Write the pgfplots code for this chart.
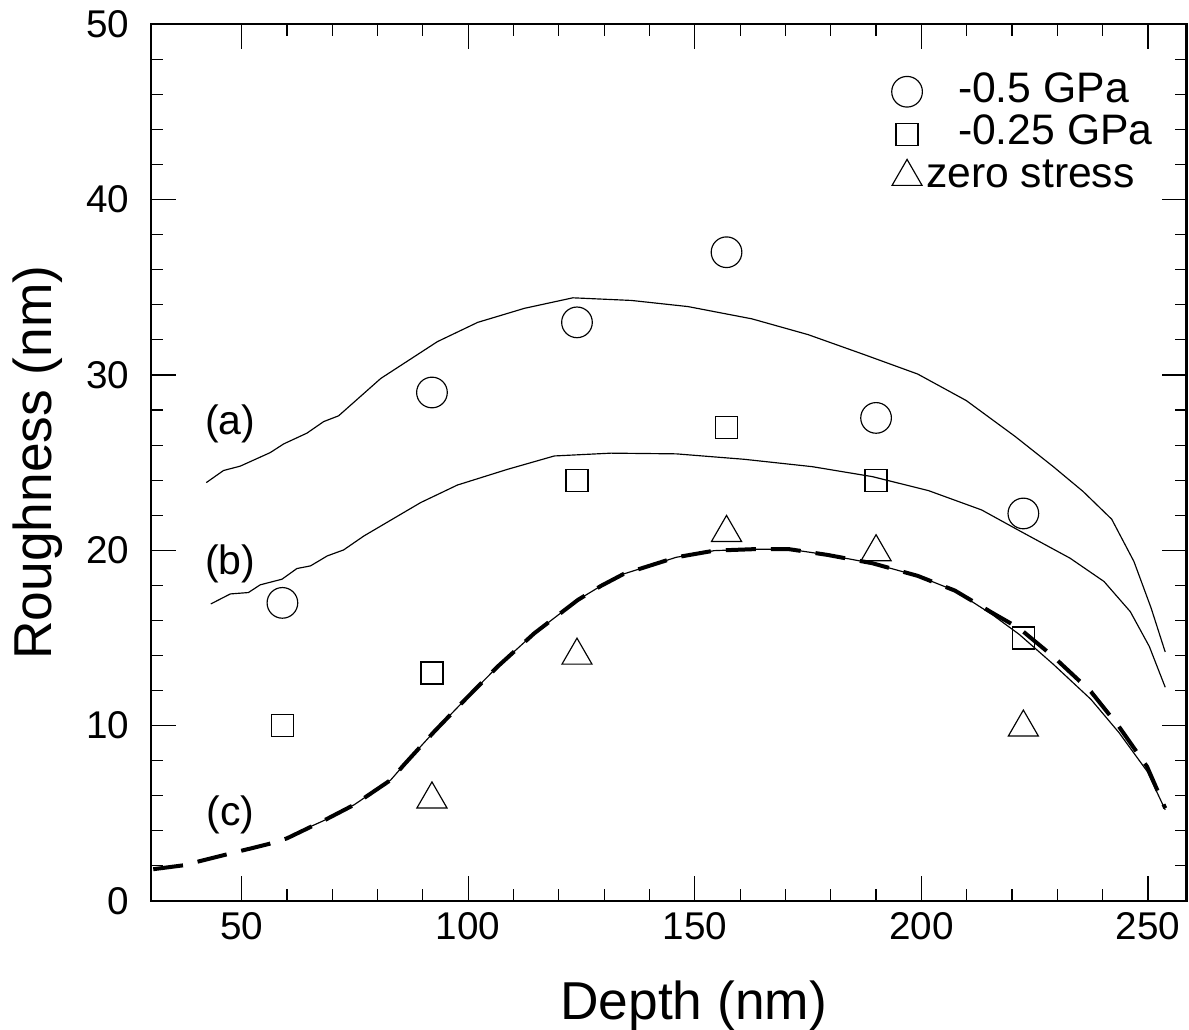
\documentclass[border=0pt]{standalone}
\usepackage{fontspec}
\setmainfont{Liberation Sans}
\usepackage{pgfplots}
\pgfplotsset{compat=1.18}
\usetikzlibrary{calc}

\begin{document}
\begin{tikzpicture}
\begin{axis}[
  name=ax,
  scale only axis,
  width=310.65pt, height=263pt,
  xmin=30, xmax=258.5, ymin=0, ymax=50,
  xtick={50,100,...,250}, ytick={0,10,...,50},
  minor x tick num=4, minor y tick num=4,
  major tick length=7.5pt, minor tick length=3.6pt,
  tick style={line width=0.35pt, black},
  axis line style={line width=0.7pt},
  tick align=inside,
  /pgf/number format/assume math mode=true,
  ticklabel style={font=\fontsize{11.6}{13}\selectfont},
  yticklabel style={xshift=-3pt},
  xlabel={Depth (nm)}, ylabel={Roughness (nm)},
  label style={font=\fontsize{16}{18}\selectfont},
  xlabel style={at={(axis description cs:0.524,-0.1357)}, anchor=base},
  ylabel style={at={(axis description cs:-0.0959,0.5)}, anchor=base},
  clip marker paths=true,
  every axis plot/.append style={line width=0.35pt},
  legend style={draw=none, fill=none, at={(axis cs:191.1,47.76)}, anchor=north west,
    font=\fontsize{12.8}{14}\selectfont,
    nodes={inner sep=0.5pt, text height=8.9pt, text depth=2.6pt},
    row sep=0.25pt, cells={anchor=west}},
  legend image code/.code={\draw[#1] plot coordinates {(0pt,0pt)};},
]
% data points
\addplot[only marks, mark=o, mark size=4.6pt] coordinates {
  (59,17.0) (92,29.0) (124,33.0) (157,37.0) (190,27.55) (222.5,22.1)};
\addlegendentry{\hspace{10.2pt}-0.5 GPa}
\addplot[only marks, mark=square, mark size=3.3pt] coordinates {
  (59,10.0) (92,13.0) (124,24.0) (157,27.0) (190,24.0) (222.5,15.0)};
\addlegendentry{\hspace{10.2pt}-0.25 GPa}
\addplot[only marks, mark=triangle, mark size=5.2pt] coordinates {
  (59,-0.2) (92,5.8) (124,14.0) (157,21.0) (190,19.9) (222.5,9.9)};
\addlegendentry{\hspace{0.6pt}zero stress}

% model curves
\addplot[black, forget plot] coordinates {
  (42.2,23.86) (46.0,24.55) (49.7,24.8) (56.3,25.57) (59.3,26.07) (64.4,26.68)
  (68.1,27.34) (71.4,27.67) (80.7,29.8) (93.2,31.9) (102.1,33.0) (112.4,33.8)
  (123.1,34.4) (136.0,34.25) (148.5,33.9) (162.6,33.2) (175.0,32.3) (187.5,31.15)
  (199.2,30.05) (209.9,28.54) (220.7,26.49) (229.1,24.77) (235.7,23.35) (242.0,21.77)
  (246.9,19.36) (250.7,16.7) (253.8,14.2)};
\addplot[black, forget plot] coordinates {
  (43.2,16.94) (47.5,17.51) (51.5,17.59) (54.1,18.03) (58.9,18.35) (62.2,18.96)
  (65.2,19.11) (68.9,19.68) (72.5,20.02) (77.0,20.82) (89.5,22.72) (97.6,23.72)
  (108.7,24.62) (119.0,25.38) (131.5,25.54) (145.9,25.5) (160.9,25.19) (175.9,24.77)
  (189.2,24.2) (201.6,23.4) (213.3,22.3) (221.6,21.12) (232.8,19.55) (240.3,18.22)
  (246.1,16.5) (250.3,14.51) (253.8,12.19)};
\addplot[black, forget plot] coordinates {
  (64.0,4.1) (68.1,4.58) (74.8,5.48) (82.9,6.9) (85.8,7.76) (92.5,9.66)
  (99.1,11.43) (106.5,13.37) (114.6,15.27) (124.2,17.17) (129.3,17.97) (134.3,18.65)
  (145.9,19.6) (154.3,19.98) (162.6,20.06) (170.9,20.06) (179.2,19.74) (189.2,19.26)
  (199.2,18.54) (207.4,17.7) (215.8,16.3) (221.6,15.2) (229.1,13.5) (237.4,11.5)
  (243.6,9.6) (249.8,7.4) (253.8,5.2)};
\addplot[black, line width=1.2pt, dash pattern=on 9pt off 4.5pt, forget plot] coordinates {
  (30.5,1.81) (37.1,2.03) (47.1,2.68) (56.0,3.25) (60.0,3.57) (68.1,4.58)
  (74.8,5.48) (82.9,6.9) (85.8,7.76) (92.5,9.66) (99.1,11.43) (106.5,13.37)
  (114.6,15.27) (124.2,17.17) (129.3,17.97) (134.3,18.65) (145.9,19.6) (154.3,19.98)
  (162.6,20.06) (170.9,20.06) (179.2,19.74) (189.2,19.26) (199.2,18.54) (207.4,17.7)
  (215.8,16.41) (221.6,15.55) (229.1,13.94) (237.4,11.94) (243.6,9.94) (249.8,7.66)
  (253.8,5.29)};

\node[font=\fontsize{12.3}{14}\selectfont] at (axis cs:47.5,27.2) {(a)};
\node[font=\fontsize{12.3}{14}\selectfont] at (axis cs:47.5,19.2) {(b)};
\node[font=\fontsize{12.3}{14}\selectfont] at (axis cs:47.5,4.9) {(c)};
\end{axis}
\pgfresetboundingbox
\path ($(ax.south west)+(-45.3pt,-38.7pt)$) rectangle ($(ax.north east)+(0.75pt,7.29pt)$);
\end{tikzpicture}
\end{document}
